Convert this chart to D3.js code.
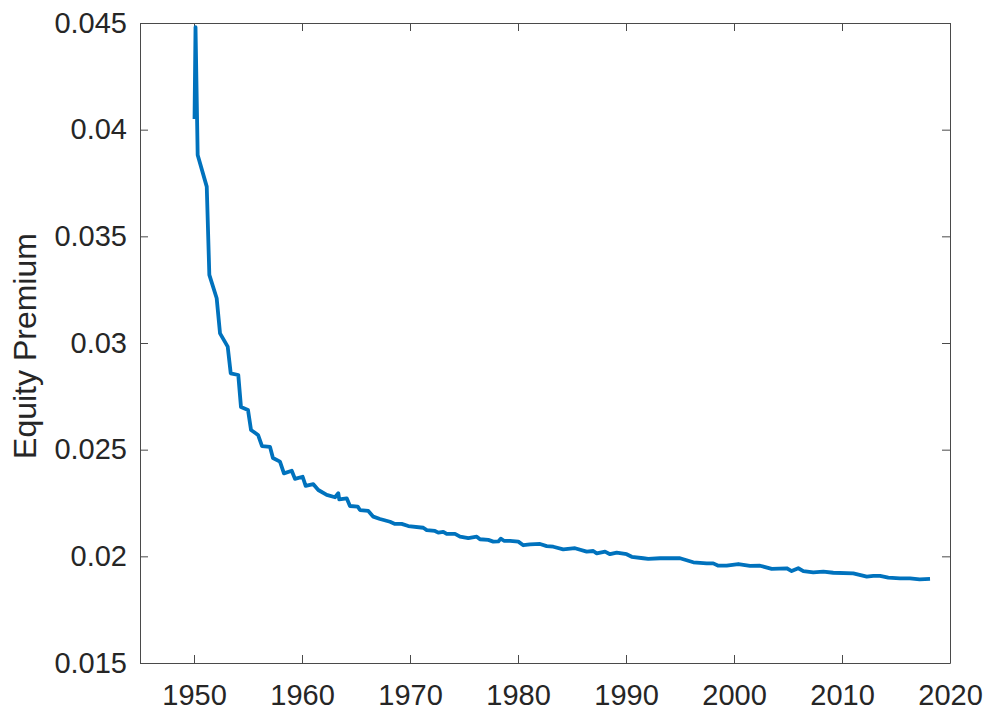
<!DOCTYPE html>
<html>
<head>
<meta charset="utf-8">
<script src="https://cdn.jsdelivr.net/npm/d3@7"></script>
<style>
  html, body { margin: 0; padding: 0; background: #fff; }
  svg { display: block; }
</style>
</head>
<body>
<svg id="chart" width="990" height="713"></svg>
<script>
// ---- data ----
const years = [
  1950.05, 1950.14, 1950.34, 1951.18, 1951.42, 1952.10, 1952.41, 1953.12, 1953.40, 1954.10,
  1954.35, 1955.00, 1955.28, 1955.93, 1956.30, 1957.04, 1957.31, 1957.96, 1958.33, 1959.05,
  1959.35, 1960.06, 1960.34, 1961.05, 1961.51, 1962.29, 1963.06, 1963.36, 1963.45, 1964.14,
  1964.44, 1965.16, 1965.37, 1966.14, 1966.60, 1967.22, 1968.15, 1968.61, 1969.23, 1969.84,
  1971.23, 1971.55, 1972.31, 1972.62, 1973.08, 1973.40, 1974.17, 1974.63, 1975.40, 1976.18,
  1976.48, 1977.25, 1977.71, 1978.18, 1978.40, 1978.70, 1979.26, 1980.03, 1980.49, 1981.11,
  1982.04, 1982.66, 1983.27, 1984.19, 1985.28, 1986.36, 1986.97, 1987.29, 1988.06, 1988.52,
  1989.14, 1990.06, 1990.53, 1991.60, 1992.06, 1993.15, 1994.38, 1995.00, 1996.23, 1997.47,
  1998.08, 1998.55, 1999.32, 2000.40, 2001.48, 2002.41, 2003.49, 2004.88, 2005.34, 2005.95,
  2006.42, 2007.34, 2008.27, 2009.19, 2011.05, 2012.29, 2012.90, 2013.52, 2014.29, 2015.37,
  2016.30, 2017.19, 2018.15
];
const premium = [
  0.04050, 0.04481, 0.03881, 0.03733, 0.03319, 0.03210, 0.03045, 0.02983, 0.02858, 0.02850,
  0.02700, 0.02686, 0.02592, 0.02569, 0.02517, 0.02513, 0.02461, 0.02444, 0.02389, 0.02401,
  0.02363, 0.02373, 0.02330, 0.02338, 0.02311, 0.02288, 0.02277, 0.02296, 0.02267, 0.02272,
  0.02236, 0.02233, 0.02217, 0.02213, 0.02186, 0.02175, 0.02162, 0.02152, 0.02152, 0.02142,
  0.02134, 0.02123, 0.02119, 0.02111, 0.02115, 0.02105, 0.02105, 0.02092, 0.02085, 0.02092,
  0.02080, 0.02077, 0.02069, 0.02070, 0.02083, 0.02073, 0.02072, 0.02069, 0.02052, 0.02056,
  0.02058, 0.02048, 0.02045, 0.02033, 0.02038, 0.02022, 0.02025, 0.02014, 0.02022, 0.02010,
  0.02017, 0.02010, 0.01998, 0.01991, 0.01988, 0.01991, 0.01991, 0.01991, 0.01972, 0.01967,
  0.01967, 0.01956, 0.01956, 0.01964, 0.01955, 0.01956, 0.01941, 0.01944, 0.01931, 0.01944,
  0.01931, 0.01925, 0.01928, 0.01923, 0.01920, 0.01905, 0.01908, 0.01908, 0.01900, 0.01897,
  0.01897, 0.01892, 0.01894
];
const xTicks = [1950, 1960, 1970, 1980, 1990, 2000, 2010, 2020];
const yTicks = [0.015, 0.02, 0.025, 0.03, 0.035, 0.04, 0.045];
const yTickLabels = ["0.015", "0.02", "0.025", "0.03", "0.035", "0.04", "0.045"];
const yLabel = "Equity Premium";

// ---- layout ----
const svg = d3.select("#chart");
const plotL = 140, plotR = 950, plotT = 23, plotB = 663;
const font = "'Liberation Sans', Arial, Helvetica, sans-serif";
const textColor = "#262626";
const axisColor = "#4a4a4a";
const tickLen = 8;

const x = d3.scaleLinear().domain([1945, 2020]).range([plotL, plotR]);
const y = d3.scaleLinear().domain([0.015, 0.045]).range([plotB, plotT]);

// bottom axis
const gx = svg.append("g").attr("transform", `translate(0,${plotB})`)
  .call(d3.axisBottom(x).tickValues(xTicks).tickFormat(d3.format("d"))
        .tickSizeInner(-tickLen).tickSizeOuter(0).tickPadding(20));
// top axis (ticks only)
const gxt = svg.append("g").attr("transform", `translate(0,${plotT})`)
  .call(d3.axisTop(x).tickValues(xTicks).tickFormat("")
        .tickSizeInner(-tickLen).tickSizeOuter(0));
// left axis
const gy = svg.append("g").attr("transform", `translate(${plotL},0)`)
  .call(d3.axisLeft(y).tickValues(yTicks).tickFormat((d, i) => yTickLabels[i])
        .tickSizeInner(-tickLen).tickSizeOuter(0).tickPadding(13));
// right axis (ticks only)
const gyr = svg.append("g").attr("transform", `translate(${plotR},0)`)
  .call(d3.axisRight(y).tickValues(yTicks).tickFormat("")
        .tickSizeInner(-tickLen).tickSizeOuter(0));

[gx, gxt, gy, gyr].forEach(g => {
  g.select(".domain").attr("stroke", axisColor);
  g.selectAll(".tick line").attr("stroke", axisColor);
  g.selectAll(".tick text")
    .attr("fill", textColor)
    .style("font-family", font)
    .style("font-size", "29px");
});
gx.selectAll(".tick text").attr("dy", null).attr("y", 42);

// line
const line = d3.line()
  .x((d, i) => x(years[i]))
  .y((d, i) => y(premium[i]));

svg.append("path")
  .datum(premium)
  .attr("d", line)
  .attr("fill", "none")
  .attr("stroke", "#0072BD")
  .attr("stroke-width", 3.8)
  .attr("stroke-linejoin", "round")
  .attr("stroke-linecap", "butt");

// y label
svg.append("text")
  .attr("transform", `translate(36,${(plotT + plotB) / 2 + 3}) rotate(-90)`)
  .attr("text-anchor", "middle")
  .attr("fill", textColor)
  .style("font-family", font)
  .style("font-size", "32px")
  .text(yLabel);
</script>
</body>
</html>
